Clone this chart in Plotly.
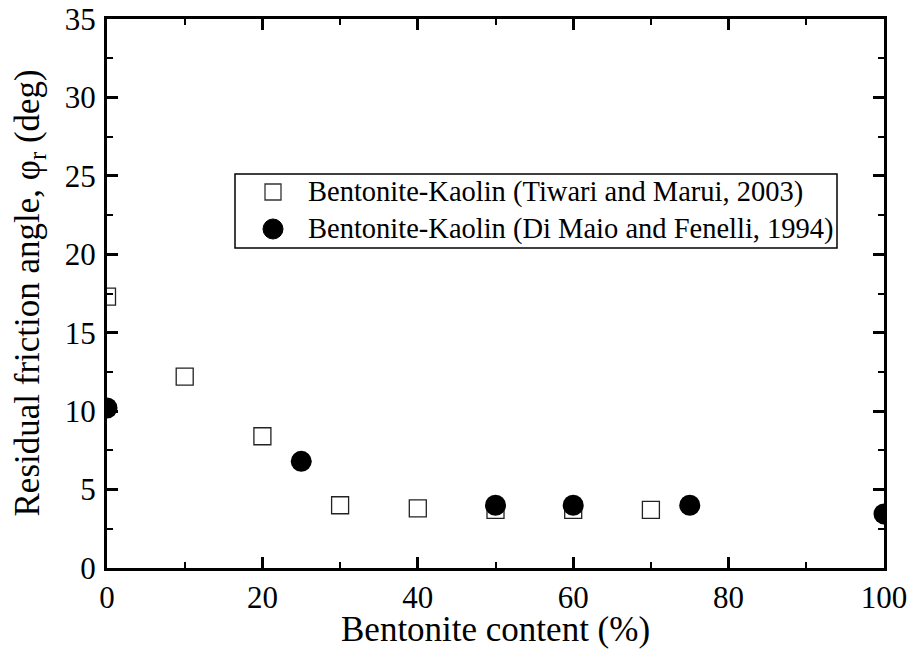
import plotly.graph_objects as go

tiwari_x = [0, 10, 20, 30, 40, 50, 60, 70]
tiwari_y = [17.3, 12.2, 8.4, 4.0, 3.8, 3.7, 3.7, 3.7]
dimaio_x = [0, 25, 50, 60, 75, 100]
dimaio_y = [10.2, 6.8, 4.0, 4.0, 4.0, 3.45]

tiwari_name = "Bentonite-Kaolin (Tiwari and Marui, 2003)"
dimaio_name = "Bentonite-Kaolin (Di Maio and Fenelli, 1994)"
x_title = "Bentonite content (%)"
y_title = "Residual friction angle, φ<sub>r</sub> (deg)"

FONT = "Liberation Serif, Times New Roman, serif"

W, H = 915, 652
ML, MR, MT, MB = 107, 31, 19, 84
PW, PH = W - ML - MR, H - MT - MB


def px(xp):
    return (xp - ML) / PW


def py(yp):
    return (H - MB - yp) / PH


fig = go.Figure()
fig.add_trace(go.Scatter(
    x=tiwari_x, y=tiwari_y, mode="markers", name=tiwari_name,
    marker=dict(symbol="square-open", size=17, color="#222", line=dict(width=1.3, color="#333")),
))
fig.add_trace(go.Scatter(
    x=dimaio_x, y=dimaio_y, mode="markers", name=dimaio_name,
    marker=dict(symbol="circle", size=21, color="black"),
))

axis_common = dict(
    showline=True, linewidth=3, linecolor="black", mirror="allticks",
    ticks="inside", ticklen=11, tickwidth=2.5, tickcolor="black",
    showgrid=False, zeroline=False, automargin=False,
    tickfont=dict(family=FONT, size=31, color="black"),
)

fig.update_xaxes(
    range=[0, 100], dtick=20, tick0=0,
    ticklabelstandoff=0,
    minor=dict(ticks="inside", dtick=10, ticklen=6, tickwidth=2, tickcolor="black", showgrid=False),
    **axis_common,
)
fig.update_yaxes(
    range=[0, 35], dtick=5, tick0=0,
    ticklabelstandoff=2,
    minor=dict(ticks="inside", dtick=2.5, ticklen=6, tickwidth=2, tickcolor="black", showgrid=False),
    **axis_common,
)

# axis titles
fig.add_annotation(text=x_title, xref="paper", yref="paper", x=0.5, y=py(629),
                   xanchor="center", yanchor="middle", showarrow=False,
                   font=dict(family=FONT, size=35, color="black"))
fig.add_annotation(text=y_title, xref="paper", yref="paper", x=px(29), y=0.5,
                   xanchor="center", yanchor="middle", showarrow=False, textangle=-90,
                   font=dict(family=FONT, size=35, color="black"))

# legend (drawn box, symbols and labels)
fig.add_shape(type="rect", xref="paper", yref="paper",
              x0=px(235), x1=px(837), y0=py(248), y1=py(174),
              line=dict(color="black", width=1.5), fillcolor="white", layer="above")
fig.add_shape(type="rect", xref="paper", yref="paper", xsizemode="pixel", ysizemode="pixel",
              xanchor=px(273), yanchor=py(192), x0=-8, x1=8, y0=-8, y1=8,
              line=dict(color="#333", width=1.3), fillcolor="white", layer="above")
fig.add_shape(type="circle", xref="paper", yref="paper", xsizemode="pixel", ysizemode="pixel",
              xanchor=px(273), yanchor=py(229), x0=-10, x1=10, y0=-10, y1=10,
              line=dict(color="black", width=1), fillcolor="black", layer="above")
fig.add_annotation(text=tiwari_name, xref="paper", yref="paper", x=px(306), y=py(192),
                   xanchor="left", yanchor="middle", showarrow=False,
                   font=dict(family=FONT, size=28.5, color="black"))
fig.add_annotation(text=dimaio_name, xref="paper", yref="paper", x=px(306), y=py(229),
                   xanchor="left", yanchor="middle", showarrow=False,
                   font=dict(family=FONT, size=28.5, color="black"))

fig.update_layout(
    width=W, height=H,
    margin=dict(l=ML, r=MR, t=MT, b=MB),
    plot_bgcolor="white", paper_bgcolor="white",
    font=dict(family=FONT, color="black"),
    showlegend=False,
)

fig.write_html("out.html")
